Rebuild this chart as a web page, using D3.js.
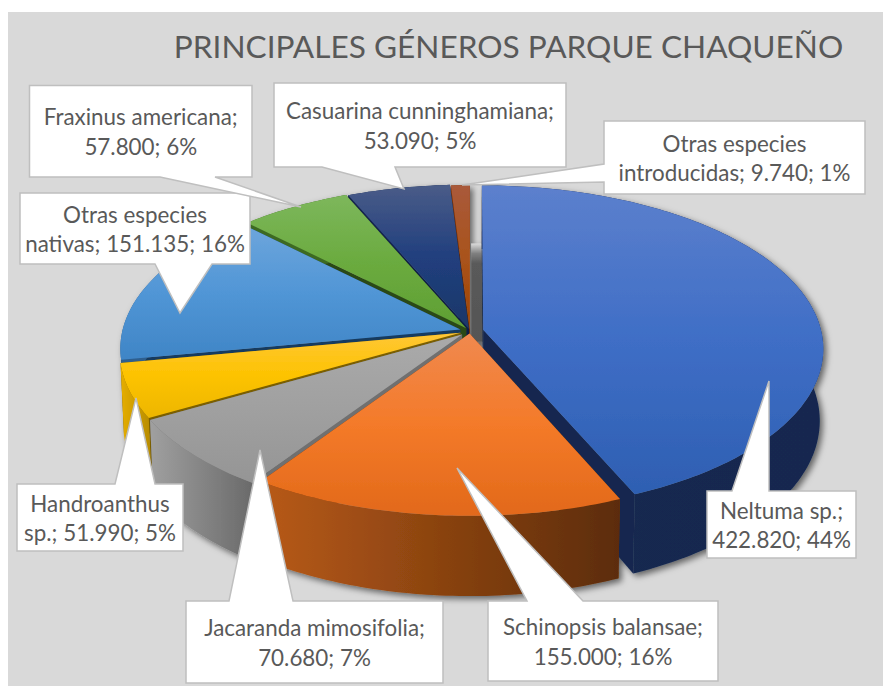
<!DOCTYPE html>
<html><head><meta charset="utf-8">
<script src="https://cdnjs.cloudflare.com/ajax/libs/d3/7.8.5/d3.min.js"></script>
<style>html,body{margin:0;padding:0;background:#fff}svg{display:block}</style>
</head><body><svg id="c" width="883" height="686"></svg>
<script>
const chartTitle = "PRINCIPALES GÉNEROS PARQUE CHAQUEÑO";
const categories = ["Neltuma sp.","Schinopsis balansae","Jacaranda mimosifolia","Handroanthus sp.","Otras especies nativas","Fraxinus americana","Casuarina cunninghamiana","Otras especies introducidas"];
const values = [422820,155000,70680,51990,151135,57800,53090,9740];
const explode = [0.04,0.015,0.032,0.03,0.03,0.02,0.015,0.01];
const topStops = [["#5c80cd","#3f6ec6","#2e5fb2"],["#f0894f","#f47a29","#e2691a"],["#aaaaaa","#a0a0a0","#959595"],["#ffc738","#fdc300","#edb600"],["#6ea6dc","#5196d6","#3f85c6"],["#7db75c","#6bab3f","#5f9f33"],["#4a5c88","#213f7e","#1a3768"],["#a95a3b","#a9531c","#a04300"]];
const wallStops = [["#16294f","#14284f"],["#b85a18","#5c2c08"],["#a0a0a0","#696969"],["#e6ae00","#b58a00"],["#2d5f8f","#2d5f8f"],["#3d6b22","#3d6b22"],["#12244d","#12244d"],["#7a3205","#7a3205"]];
const faceColors = ["#14284f","#6f3409","#6f6f6f","#7a5e06","#173a5f","#2c4a18","#0f1f46","#6a2c06"];
const drawOrder = [7,6,5,4,3,2,0,1];
// callout placement: box [x0,y0,x1,y1], pointer base and tip, text lines
const callouts = [
 {box:[707,491,856,558],base:[[732,491],[769,491]],tip:[769,381],edge:"t"},
 {box:[488,601,718,681],base:[[527,601],[583,601]],tip:[457,468],edge:"t"},
 {box:[186,601,443,683],base:[[229,601],[293,601]],tip:[260,450],edge:"t"},
 {box:[17,484,183,551],base:[[115,484],[155,484]],tip:[136,398],edge:"t"},
 {box:[20,193,250,264],base:[[155,264],[212,264]],tip:[180,313],edge:"b"},
 {box:[29.5,85.5,252,177],base:[[160,177],[215,177]],tip:[301,207],edge:"b"},
 {box:[274,83,566,167],base:[[322,167],[395,167]],tip:[404,189],edge:"b"},
 {box:[604,121,865,194],base:[[604,164],[604,182]],tip:[462,185],edge:"l"}
];
const labelLines = [["Neltuma sp.;","422.820; 44%"],["Schinopsis balansae;","155.000; 16%"],["Jacaranda mimosifolia;","70.680; 7%"],["Handroanthus","sp.; 51.990; 5%"],["Otras especies","nativas; 151.135; 16%"],["Fraxinus americana;","57.800; 6%"],["Casuarina cunninghamiana;","53.090; 5%"],["Otras especies","introducidas; 9.740; 1%"]];

const svg = d3.select("#c");
const W=883,H=686;
svg.append("rect").attr("x",8).attr("y",12).attr("width",W-8).attr("height",H-12).attr("fill","#d9d9d9");
svg.append("text").attr("x",508.5).attr("y",58).attr("text-anchor","middle").attr("fill","#595959")
  .style("font-family","Lato").style("font-size","31.6px").text(chartTitle);

const defs = svg.append("defs");
const f = defs.append("filter").attr("id","sh").attr("x","-10%").attr("y","-10%").attr("width","120%").attr("height","125%");
f.append("feDropShadow").attr("dx",3).attr("dy",3).attr("stdDeviation",3).attr("flood-color","#000").attr("flood-opacity",0.55);

// perspective disc projection
const persp = 0.114, cx=470, cy=331, R=338, A=161, depth=71;
const xs = d3.scaleLinear().domain([-1,1]).range([cx-R,cx+R]);
const ys = d3.scaleLinear().domain([-1,1]).range([cy-A,cy+A]);
const proj = (u,v,lower=false)=>{
  const s=1/(1-persp*v), x=xs(u*s), y=ys(v*s);
  return lower?[cx+(x-cx)*0.99,y+depth*s]:[x,y];
};
const line = d3.line();
const pie = d3.pie().sort(null).value(d=>d)(values);

const pieG = svg.append("g").attr("filter","url(#sh)");

function grad(id,stops,horizontal){
  const g=defs.append("linearGradient").attr("id",id).attr("x1",0).attr("y1",0)
    .attr("x2",horizontal?1:0).attr("y2",horizontal?0:1);
  stops.forEach((c,i)=>g.append("stop").attr("offset",i/(stops.length-1)).attr("stop-color",c));
}
values.forEach((v,i)=>{grad("t"+i,topStops[i],false);grad("w"+i,wallStops[i],true);});
const gapG = defs.append("linearGradient").attr("id","gap").attr("x1",0).attr("y1",0).attr("x2",0).attr("y2",1);
[[0,"#d9d9d9"],[0.1,"#808080"],[0.2,"#5a5a5a"],[1,"#555555"]].forEach(([o,c])=>gapG.append("stop").attr("offset",o).attr("stop-color",c));

drawOrder.forEach(i=>{
  const d=pie[i], mid=(d.startAngle+d.endAngle)/2;
  const ou=explode[i]*Math.sin(mid), ov=-explode[i]*Math.cos(mid);
  const pt=(a,r=1)=>[ou+r*Math.sin(a),ov-r*Math.cos(a)];
  const angs=d3.range(d.startAngle,d.endAngle,Math.PI/180).concat([d.endAngle]);
  const rim=angs.map(a=>pt(a));
  const apex=proj(ou,ov), apexD=proj(ou,ov,true);
  const g=pieG.append("g");
  if(i===0){ // dark gap seen behind the first slice's straight edge
    const p=proj(...pt(d.startAngle,0.57));
    g.append("path").attr("fill","url(#gap)")
     .attr("d",line([[apex[0]-12,p[1]],[apex[0],p[1]],[apex[0],apex[1]+12],[apex[0]-12,apex[1]+12]])+"Z");
  }
  [d.startAngle,d.endAngle].forEach(a=>{
    const e=pt(a);
    g.append("path").attr("fill",faceColors[i])
     .attr("d",line([apex,proj(...e),proj(...e,true),apexD])+"Z");
  });
  const upper=rim.map(p=>proj(p[0],p[1]));
  const lower=rim.map(p=>proj(p[0],p[1],true)).reverse();
  g.append("path").attr("fill",`url(#w${i})`).attr("d",line(upper.concat(lower))+"Z");
  g.append("path").attr("fill",`url(#t${i})`).attr("d",line([apex].concat(upper))+"Z");
});

const cg=svg.append("g");
callouts.forEach((c,k)=>{
  const [x0,y0,x1,y1]=c.box,[b0,b1]=c.base;let pts;
  if(c.edge==="t")pts=[[x0,y0],b0,c.tip,b1,[x1,y0],[x1,y1],[x0,y1]];
  if(c.edge==="b")pts=[[x0,y0],[x1,y0],[x1,y1],b1,c.tip,b0,[x0,y1]];
  if(c.edge==="l")pts=[[x0,y0],[x1,y0],[x1,y1],[x0,y1],b1,c.tip,b0];
  cg.append("path").attr("d",line(pts)+"Z").attr("fill","#fff").attr("stroke","#bfbfbf").attr("stroke-width",1.5);
  const mx=(x0+x1)/2,my=(y0+y1)/2;
  labelLines[k].forEach((t,j)=>cg.append("text").attr("x",mx).attr("y",my-6+j*29.5)
    .attr("text-anchor","middle").attr("fill","#595959").style("font-family","Lato").style("font-size","22.4px").text(t));
});
</script></body></html>
